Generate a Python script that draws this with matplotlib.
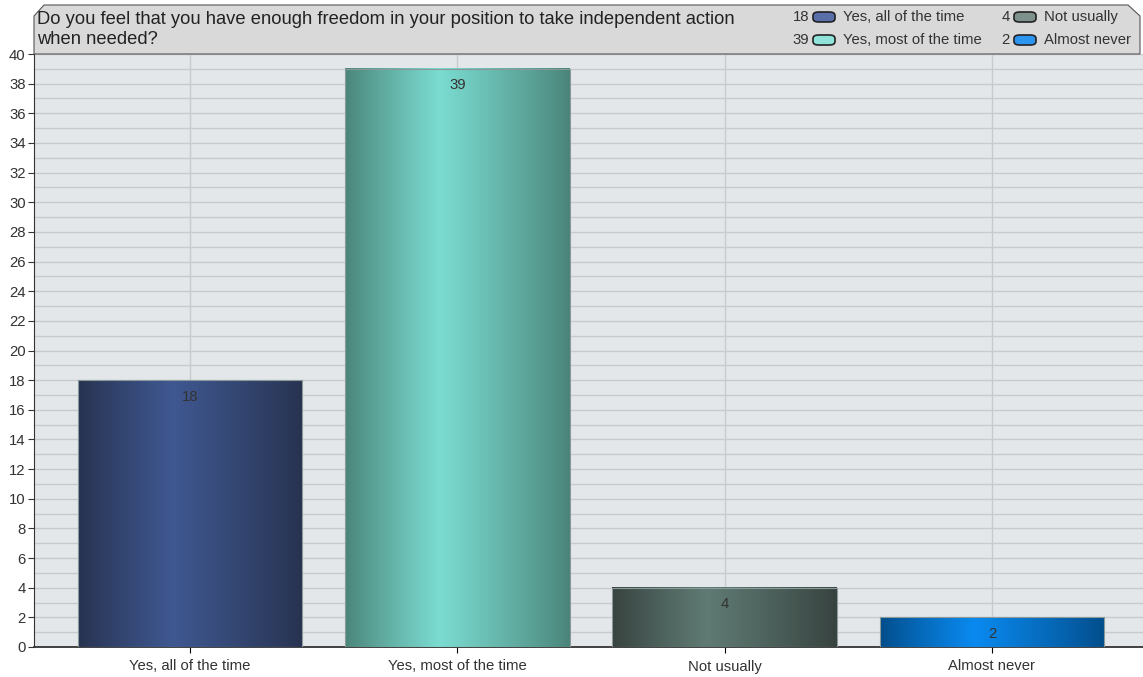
import numpy as np
import matplotlib
matplotlib.use("Agg")
import matplotlib.pyplot as plt
from matplotlib.patches import Rectangle, FancyBboxPatch, Polygon
from matplotlib.colors import to_rgb

plt.rcParams['font.family'] = ['Liberation Sans', 'DejaVu Sans']

# data
categories = ["Yes, all of the time", "Yes, most of the time", "Not usually", "Almost never"]
counts = [18, 39, 4, 2]
title_lines = ["Do you feel that you have enough freedom in your position to take independent action",
               "when needed?"]

# gradient colours per bar: (edge shade, highlight)
edge_colors = ["#27324f", "#4a8479", "#37423f", "#024d8a"]
mid_colors = ["#3f5891", "#7bdcd1", "#5f7b73", "#0a8af0"]
legend_colors = ["#5a6ea8", "#8fe3d8", "#7d928c", "#2b95f0"]

W, H = 1143, 677
fig = plt.figure(figsize=(W / 100, H / 100), dpi=100)
fig.patch.set_facecolor("white")

left, right, top, bottom = 34, 1143, 54, 647
ax = fig.add_axes([left / W, 1 - bottom / H, (right - left) / W, (bottom - top) / H])
ax.set_facecolor("#e4e7ea")

x = np.arange(len(categories))
bar_w = 0.84
FS = 10.7


def grad_image(c_edge, c_mid, n=200):
    t = np.linspace(0, 1, n)
    peak = 0.42
    w = np.where(t < peak, t / peak, (1 - t) / (1 - peak))
    w = np.clip(w, 0, 1) ** 0.9
    e = np.array(to_rgb(c_edge))
    m = np.array(to_rgb(c_mid))
    img = e[None, :] * (1 - w[:, None]) + m[None, :] * w[:, None]
    return img[None, :, :]


for xi, v, ce, cm in zip(x, counts, edge_colors, mid_colors):
    x0, x1 = xi - bar_w / 2, xi + bar_w / 2
    ax.imshow(grad_image(ce, cm), extent=(x0, x1, 0, v), aspect="auto",
              interpolation="bilinear", zorder=3)
    ax.add_patch(Rectangle((x0, 0), bar_w, v, fill=False, edgecolor="#8a9a9a",
                           lw=0.8, zorder=4))
    ax.text(xi, v - 0.65, str(v), ha="center", va="top", fontsize=FS,
            color="#333333", zorder=5)

ax.set_xlim(-0.584, 3.565)
ax.set_ylim(0, 40)
ax.set_yticks(np.arange(0, 41, 2))
ax.set_yticks(np.arange(0, 41, 1), minor=True)
ax.set_xticks(x)
ax.set_xticklabels(categories, fontsize=FS, color="#333333")
ax.tick_params(axis="y", which="major", labelsize=FS, colors="#333333", length=4, width=0.8, pad=2)
ax.tick_params(axis="y", which="minor", length=0)
ax.tick_params(axis="x", length=4, width=0.8, pad=5)
ax.grid(True, axis="y", which="both", color="#c8cbce", lw=1, zorder=0)
ax.grid(True, axis="x", which="major", color="#c8cbce", lw=1, zorder=0)
ax.set_axisbelow(True)
for s in ["top", "right"]:
    ax.spines[s].set_visible(False)
ax.spines["left"].set_color("#333333")
ax.spines["bottom"].set_color("#333333")
ax.spines["bottom"].set_linewidth(1.3)


def fx(px):
    return px / W


def fy(py):
    return 1 - py / H


# title band with chamfered corners
band = Polygon([(fx(34), fy(54)), (fx(34), fy(16)), (fx(44), fy(5)),
                (fx(1128), fy(5)), (fx(1140), fy(16)), (fx(1140), fy(54))],
               closed=True, transform=fig.transFigure, facecolor="#d9d9d9",
               edgecolor="#555555", lw=0.8, zorder=1)
fig.patches.append(band)
for line, py in zip(title_lines, [19, 40]):
    fig.text(fx(37), fy(py), line, fontsize=13.2, color="#222222", va="center", ha="left")

# legend inside the title band
leg_pos = [(809, 17), (809, 40), (1010, 17), (1010, 40)]
for (lx, ly), v, lab, col in zip(leg_pos, counts, categories, legend_colors):
    fig.text(fx(lx), fy(ly), str(v), fontsize=FS, ha="right", va="center", color="#333333")
    pill = FancyBboxPatch((fx(lx + 4), fy(ly + 5)), fx(22), 10 / H,
                          boxstyle="round,pad=0,rounding_size=0.005",
                          transform=fig.transFigure, facecolor=col,
                          edgecolor="#222222", lw=1.2)
    fig.patches.append(pill)
    fig.text(fx(lx + 34), fy(ly), lab, fontsize=FS, ha="left", va="center", color="#333333")

fig.savefig("out.png", dpi=100)
